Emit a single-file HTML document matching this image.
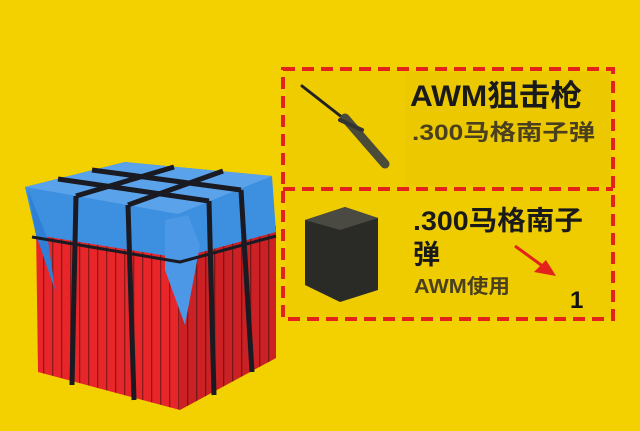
<!DOCTYPE html>
<html><head><meta charset="utf-8"><style>
html,body{margin:0;padding:0;background:#f3d100;}
body{width:640px;height:431px;overflow:hidden;position:relative;font-family:"Liberation Sans","Noto Sans CJK SC",sans-serif;}
</style></head><body>
<svg width="640" height="431" viewBox="0 0 640 431" style="position:absolute;left:0;top:0">
<defs>
<pattern id="st" width="9" height="10" patternUnits="userSpaceOnUse">
<rect width="9" height="10" fill="#e8262a"/><rect x="7" width="1.3" height="10" fill="#8a1a1c"/>
</pattern>
</defs>
<rect width="640" height="431" fill="#f3d100"/>
<polygon points="36,228 180,252 180,410 38,372" fill="url(#st)"/>
<polygon points="180,252 276,226 276,358 180,410" fill="url(#st)"/>
<polygon points="180,252 276,226 276,358 180,410" fill="#000" opacity="0.12"/>
<polygon points="25,187 125,162 272,176 276,232 180,258 36,235" fill="#3d8fe0"/>
<polygon points="25,187 125,162 272,176 178,214" fill="#5aa2ea"/>
<polygon points="28,190 36,235 55,290 48,240" fill="#2f7fd6"/>
<polygon points="165,220 188,215 200,245 185,325 165,270" fill="#4c98e6"/>
<g stroke="#1a1a22" stroke-width="5" fill="none" stroke-linejoin="round">
<path d="M76,196 L174,167"/><path d="M128,205 L223,171"/>
<path d="M58,179 L209,201"/><path d="M92,170 L241,190"/>
<path d="M76,196 L72,385"/><path d="M128,205 L134,400"/>
<path d="M209,201 L214,395"/><path d="M241,190 L252,372"/>
<path d="M32,237 L180,262 L276,236" stroke-width="3"/>
</g>
<rect x="286" y="70" width="326" height="248" fill="#efcc00"/>
<rect x="405" y="72" width="205" height="114" fill="#e8c400" opacity=".6"/>
<g stroke="#e4221c" stroke-width="4" stroke-dasharray="12,7" fill="none">
<rect x="283" y="69" width="330" height="250"/>
<line x1="283" y1="189" x2="613" y2="189"/>
</g>
<g stroke-linecap="round">
<line x1="302" y1="86" x2="352" y2="125" stroke="#222" stroke-width="3"/>
<line x1="345" y1="118" x2="385" y2="164" stroke="#4a4a38" stroke-width="9"/>
<line x1="340" y1="120" x2="362" y2="130" stroke="#333" stroke-width="4"/>
</g>
<polygon points="305,220 345,207 378,218 378,290 340,302 305,285" fill="#2a2a26"/>
<polygon points="305,220 345,207 378,218 340,230" fill="#4a4a42"/>
<text x="410" y="106" font-size="30" font-weight="bold" fill="#1a1a1a" textLength="172" lengthAdjust="spacingAndGlyphs">AWM狙击枪</text>
<text x="412" y="140" font-size="22" font-weight="bold" fill="#4a4020" textLength="183" lengthAdjust="spacingAndGlyphs">.300马格南子弹</text>
<text x="413" y="230" font-size="27" font-weight="bold" fill="#1a1a1a" textLength="170" lengthAdjust="spacingAndGlyphs">.300马格南子</text>
<text x="413" y="264" font-size="27" font-weight="bold" fill="#1a1a1a">弹</text>
<text x="414" y="293" font-size="20" font-weight="bold" fill="#4a4020" textLength="96" lengthAdjust="spacingAndGlyphs">AWM使用</text>
<text x="570" y="308" font-size="24" font-weight="bold" fill="#111">1</text>
<g stroke="#e4221c" stroke-width="3" fill="#e4221c">
<line x1="515" y1="246" x2="548" y2="270"/>
<polygon points="556,276 534,272 546,260" stroke="none"/>
</g>
</svg>
</body></html>
